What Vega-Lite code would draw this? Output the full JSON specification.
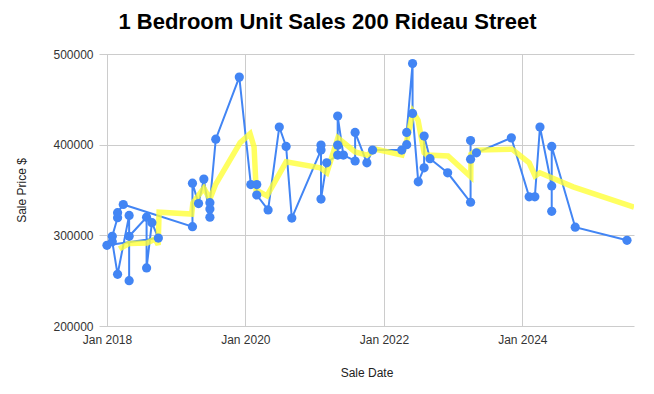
{
  "$schema": "https://vega.github.io/schema/vega-lite/v6.json",
  "autosize": "none",
  "width": 535,
  "height": 272,
  "padding": {"left": 99, "top": 54, "right": 20, "bottom": 68},
  "background": "white",
  "title": {
    "text": "1 Bedroom Unit Sales 200 Rideau Street",
    "font": "Liberation Sans",
    "fontSize": 22,
    "fontWeight": "bold",
    "color": "#000000",
    "anchor": "middle",
    "frame": "group",
    "dx": -39,
    "offset": 14
  },
  "datasets": {
    "sales": [
      {"i": 1, "date": "2018-01-01", "price": 289000},
      {"i": 2, "date": "2018-09-29", "price": 297000},
      {"i": 3, "date": "2018-08-26", "price": 314000},
      {"i": 4, "date": "2018-07-29", "price": 264000},
      {"i": 5, "date": "2018-07-29", "price": 320000},
      {"i": 6, "date": "2018-04-28", "price": 299000},
      {"i": 7, "date": "2018-04-28", "price": 250000},
      {"i": 8, "date": "2018-04-28", "price": 322000},
      {"i": 9, "date": "2018-02-26", "price": 257000},
      {"i": 10, "date": "2018-01-29", "price": 293000},
      {"i": 11, "date": "2018-01-29", "price": 299000},
      {"i": 12, "date": "2018-02-26", "price": 319500},
      {"i": 13, "date": "2018-02-26", "price": 325000},
      {"i": 14, "date": "2018-03-28", "price": 334000},
      {"i": 15, "date": "2019-03-28", "price": 309500},
      {"i": 16, "date": "2019-03-28", "price": 357500},
      {"i": 17, "date": "2019-04-29", "price": 335000},
      {"i": 18, "date": "2019-05-27", "price": 362000},
      {"i": 19, "date": "2019-06-28", "price": 320000},
      {"i": 20, "date": "2019-06-28", "price": 329000},
      {"i": 21, "date": "2019-06-28", "price": 336000},
      {"i": 22, "date": "2019-07-29", "price": 406000},
      {"i": 23, "date": "2019-11-30", "price": 474500},
      {"i": 24, "date": "2020-01-30", "price": 356000},
      {"i": 25, "date": "2020-03-01", "price": 356000},
      {"i": 26, "date": "2020-03-01", "price": 344500},
      {"i": 27, "date": "2020-04-30", "price": 328000},
      {"i": 28, "date": "2020-06-28", "price": 419500},
      {"i": 29, "date": "2020-08-03", "price": 398000},
      {"i": 30, "date": "2020-09-02", "price": 319000},
      {"i": 31, "date": "2021-02-03", "price": 394000},
      {"i": 32, "date": "2021-02-03", "price": 399500},
      {"i": 33, "date": "2021-02-03", "price": 340000},
      {"i": 34, "date": "2021-03-05", "price": 380000},
      {"i": 35, "date": "2021-05-02", "price": 388500},
      {"i": 36, "date": "2021-05-02", "price": 399500},
      {"i": 37, "date": "2021-05-02", "price": 431500},
      {"i": 38, "date": "2021-06-01", "price": 388500},
      {"i": 39, "date": "2021-08-02", "price": 382000},
      {"i": 40, "date": "2021-08-02", "price": 413500},
      {"i": 41, "date": "2021-10-03", "price": 380000},
      {"i": 42, "date": "2021-11-02", "price": 394000},
      {"i": 43, "date": "2022-04-05", "price": 394000},
      {"i": 44, "date": "2022-05-01", "price": 400000},
      {"i": 45, "date": "2022-05-01", "price": 413500},
      {"i": 46, "date": "2022-06-01", "price": 489500},
      {"i": 47, "date": "2022-06-01", "price": 434500},
      {"i": 48, "date": "2022-07-01", "price": 359000},
      {"i": 49, "date": "2022-08-01", "price": 374500},
      {"i": 50, "date": "2022-08-01", "price": 409500},
      {"i": 51, "date": "2022-09-01", "price": 384500},
      {"i": 52, "date": "2022-12-03", "price": 369000},
      {"i": 53, "date": "2023-04-03", "price": 336500},
      {"i": 54, "date": "2023-04-03", "price": 404500},
      {"i": 55, "date": "2023-04-03", "price": 384000},
      {"i": 56, "date": "2023-05-04", "price": 391000},
      {"i": 57, "date": "2023-11-04", "price": 407500},
      {"i": 58, "date": "2024-02-06", "price": 342500},
      {"i": 59, "date": "2024-03-07", "price": 342500},
      {"i": 60, "date": "2024-04-03", "price": 419500},
      {"i": 61, "date": "2024-06-04", "price": 354500},
      {"i": 62, "date": "2024-06-04", "price": 326500},
      {"i": 63, "date": "2024-06-04", "price": 398000},
      {"i": 64, "date": "2024-10-06", "price": 309000},
      {"i": 65, "date": "2025-07-06", "price": 294500}
    ],
    "trend": [
      {"date": "2018-03-07", "avg": 285000},
      {"date": "2018-04-27", "avg": 291000},
      {"date": "2018-07-31", "avg": 291500},
      {"date": "2018-09-12", "avg": 296000},
      {"date": "2018-09-28", "avg": 289500},
      {"date": "2018-10-03", "avg": 325500},
      {"date": "2019-03-24", "avg": 323500},
      {"date": "2019-03-30", "avg": 335500},
      {"date": "2019-05-27", "avg": 352000},
      {"date": "2019-06-28", "avg": 340000},
      {"date": "2019-07-29", "avg": 356500},
      {"date": "2019-12-04", "avg": 402000},
      {"date": "2020-01-26", "avg": 412000},
      {"date": "2020-02-16", "avg": 397500},
      {"date": "2020-02-27", "avg": 350000},
      {"date": "2020-04-24", "avg": 343500},
      {"date": "2020-08-03", "avg": 381000},
      {"date": "2021-01-30", "avg": 374500},
      {"date": "2021-03-06", "avg": 369000},
      {"date": "2021-05-03", "avg": 407500},
      {"date": "2021-08-02", "avg": 392000},
      {"date": "2021-10-04", "avg": 388500},
      {"date": "2021-11-21", "avg": 395000},
      {"date": "2022-04-06", "avg": 388500},
      {"date": "2022-05-02", "avg": 405000},
      {"date": "2022-06-03", "avg": 436000},
      {"date": "2022-06-30", "avg": 427000},
      {"date": "2022-08-01", "avg": 391000},
      {"date": "2022-08-16", "avg": 388500},
      {"date": "2022-12-05", "avg": 387500},
      {"date": "2023-04-04", "avg": 364500},
      {"date": "2023-04-05", "avg": 389500},
      {"date": "2023-05-06", "avg": 394000},
      {"date": "2023-11-08", "avg": 395000},
      {"date": "2024-02-06", "avg": 380000},
      {"date": "2024-03-08", "avg": 365500},
      {"date": "2024-04-03", "avg": 369000},
      {"date": "2024-09-25", "avg": 353500},
      {"date": "2025-08-12", "avg": 331000}
    ]
  },
  "encoding": {
    "x": {
      "field": "date",
      "type": "temporal",
      "scale": {"domain": [{"year": 2017, "month": 11, "date": 20}, {"year": 2025, "month": 8, "date": 12}]},
      "axis": {
        "title": "Sale Date",
        "values": [
          {"year": 2018, "month": 1, "date": 1},
          {"year": 2020, "month": 1, "date": 1},
          {"year": 2022, "month": 1, "date": 1},
          {"year": 2024, "month": 1, "date": 1}
        ],
        "format": "%b %Y",
        "grid": true,
        "domain": false,
        "ticks": false,
        "labelPadding": 8,
        "titlePadding": 22
      }
    }
  },
  "layer": [
    {
      "data": {"name": "sales"},
      "mark": {"type": "line", "color": "#4285f4", "strokeWidth": 2},
      "encoding": {
        "order": {"field": "i", "type": "quantitative"},
        "y": {
          "field": "price",
          "type": "quantitative",
          "scale": {"domain": [200000, 500000], "nice": false, "zero": false},
          "axis": {
            "title": "Sale Price $",
            "values": [200000, 300000, 400000, 500000],
            "format": "d",
            "grid": true,
            "domain": false,
            "ticks": false,
            "labelPadding": 6,
            "titlePadding": 24
          }
        }
      }
    },
    {
      "data": {"name": "trend"},
      "mark": {"type": "line", "stroke": "#ffff33", "strokeOpacity": 0.78, "strokeWidth": 5.5, "clip": true},
      "encoding": {
        "y": {"field": "avg", "type": "quantitative"}
      }
    },
    {
      "data": {"name": "sales"},
      "mark": {"type": "point", "filled": true, "size": 85, "color": "#4285f4", "opacity": 1},
      "encoding": {
        "y": {"field": "price", "type": "quantitative"}
      }
    }
  ],
  "config": {
    "view": {"stroke": null},
    "axis": {
      "labelFont": "Liberation Sans",
      "labelFontSize": 12,
      "labelColor": "#333333",
      "titleFont": "Liberation Sans",
      "titleFontSize": 12,
      "titleFontWeight": "normal",
      "titleColor": "#222222",
      "gridColor": "#cccccc",
      "gridWidth": 1
    }
  }
}
